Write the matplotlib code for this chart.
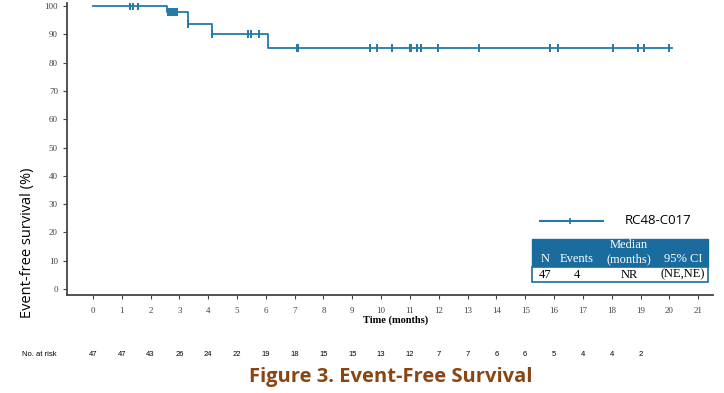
import numpy as np
import matplotlib
matplotlib.use('Agg')
import matplotlib.pyplot as plt
from matplotlib.patches import Rectangle

# KM curve
step_t = [0, 2.57, 3.30, 4.14, 6.07, 20.1]
step_s = [100, 97.9, 93.8, 90.0, 85.0, 85.0]
censor_t = [1.28, 1.39, 1.56, 2.62, 2.68, 2.74, 2.80, 2.86, 2.92, 3.30, 4.14,
            5.38, 5.49, 5.77, 7.08, 7.12, 9.63, 9.86, 10.38, 11.01, 11.05, 11.25,
            11.39, 11.98, 13.39, 15.87, 16.15, 18.04, 18.92, 19.13, 19.99]
risk_t = list(range(20))
at_risk = [47, 47, 43, 26, 24, 22, 19, 18, 15, 15, 13, 12, 7, 7, 6, 6, 5, 4, 4, 2]
x_ticks = list(range(22))
y_ticks = list(range(0, 101, 10))
table_head = ['N', 'Events', '(months)', '95% CI']
table_row = ['47', '4', 'NR', '(NE,NE)']

blue = '#2479a8'
hdr = '#1a6c9f'
brown = '#8b4513'
serif = 'Liberation Serif'

fig = plt.figure(figsize=(7.24, 3.93), dpi=100)
ax = fig.add_axes([0.0925, 0.2494, 0.8925, 0.7426])

ax.step(step_t, step_s, where='post', color=blue, lw=1.3, zorder=3)
# step function value at each censor time
cs = [step_s[max(i for i in range(len(step_t)) if step_t[i] <= t)] for t in censor_t]
ax.plot(censor_t, cs, ls='none', marker='|', ms=6, mew=1.4, color=blue, zorder=4)

ax.set_xlim(-0.9, 21.52)
ax.set_ylim(-2.1, 101)
ax.set_xticks(x_ticks)
ax.set_yticks(y_ticks)
ax.tick_params(labelsize=6.5, length=3, width=0.8, colors='#444444')
for lab in ax.get_xticklabels() + ax.get_yticklabels():
    lab.set_family(serif)
for s in ['top', 'right']:
    ax.spines[s].set_visible(False)
for s in ['left', 'bottom']:
    ax.spines[s].set_linewidth(1.3)
    ax.spines[s].set_color('#444444')
ax.tick_params(axis='x', pad=6)

fig.text(0.546, 1 - 320 / 393, 'Time (months)', ha='center', va='center',
         family=serif, fontsize=7.5, fontweight='bold')
fig.text(28 / 724, 150 / 393, 'Event-free survival (%)', rotation=90,
         ha='center', va='center', family='Open Sans', fontsize=10.5)

# number at risk row
fig.text(22 / 724, 1 - 355 / 393, 'No. at risk', ha='left', va='center',
         family='Liberation Sans', fontsize=5.5)
for t, n in zip(risk_t, at_risk):
    xf = fig.transFigure.inverted().transform(ax.transData.transform((t, 0)))[0]
    fig.text(xf, 1 - 355 / 393, str(n), ha='center', va='center',
             family='Liberation Sans', fontsize=5.5)

fig.text(0.54, 1 - 377 / 393, 'Figure 3. Event-Free Survival', ha='center',
         va='center', family='Open Sans', fontsize=14.5, fontweight='bold',
         color=brown)

# legend
ly = 1 - 221 / 393
fig.add_artist(plt.Line2D([540 / 724, 603 / 724], [ly, ly], color=blue, lw=1.5,
                          transform=fig.transFigure))
fig.add_artist(plt.Line2D([570 / 724], [ly], color=blue, marker='|', ms=5,
                          mew=1.3, transform=fig.transFigure))
fig.text(625 / 724, ly, 'RC48-C017', ha='left', va='center',
         family='Open Sans', fontsize=9.5)

# summary table
x0, x1 = 532 / 724, 708 / 724
ytop, ymid, ybot = 1 - 239 / 393, 1 - 267 / 393, 1 - 282 / 393
fig.add_artist(Rectangle((x0, ymid), x1 - x0, ytop - ymid, transform=fig.transFigure,
                         facecolor=hdr, edgecolor=hdr, lw=1))
fig.add_artist(Rectangle((x0, ybot), x1 - x0, ymid - ybot, transform=fig.transFigure,
                         facecolor='white', edgecolor=hdr, lw=1.2))
col_x = [545, 577, 629, 683]
fig.text(629 / 724, 1 - 245.5 / 393, 'Median', ha='center', va='center',
         family=serif, fontsize=9, color='white')
for cx, h, r in zip(col_x, table_head, table_row):
    fig.text(cx / 724, 1 - 259.5 / 393, h, ha='center', va='center',
             family=serif, fontsize=9, color='white')
    fig.text(cx / 724, 1 - 274.5 / 393, r, ha='center', va='center',
             family=serif, fontsize=9, color='black')

fig.savefig('out.png', dpi=100)
